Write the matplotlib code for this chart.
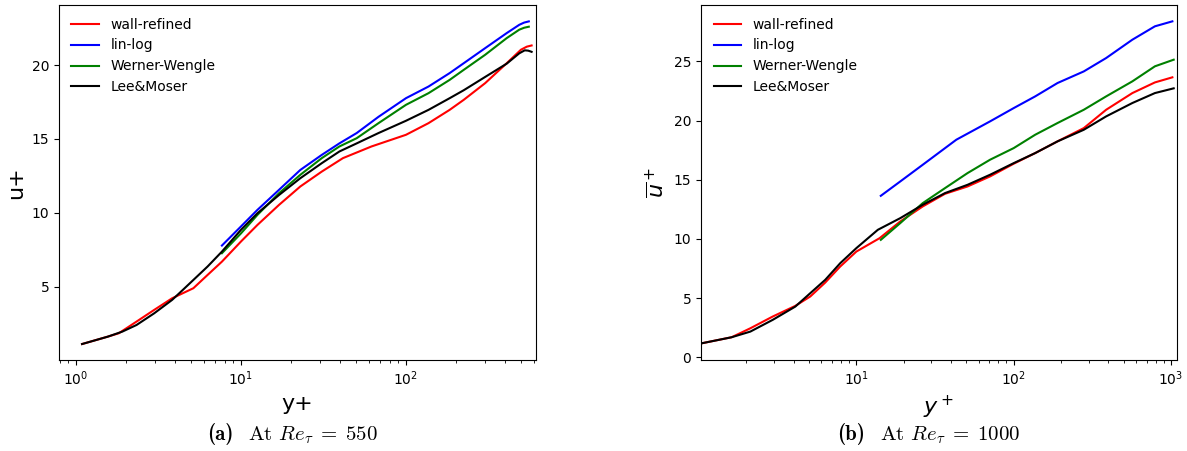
import numpy as np
import matplotlib.pyplot as plt

# ---- Re_tau = 550 ----
lm550_y = [1.09, 1.56, 1.91, 2.33, 2.98, 3.83, 4.44, 5.15, 6.28, 7.67, 10, 12.6, 17, 22.9,
           30.9, 39.5, 50.3, 68.2, 100, 137, 184, 224, 302, 408, 486, 524, 550, 577]
lm550_u = [1.11, 1.61, 1.95, 2.40, 3.19, 4.10, 4.77, 5.45, 6.36, 7.37, 8.84, 9.97, 11.2, 12.34,
           13.36, 14.15, 14.7, 15.4, 16.23, 16.97, 17.76, 18.3, 19.2, 20.1, 20.8, 21.0, 20.98, 20.9]

wr550_y = [1.09, 1.56, 1.82, 2.33, 2.98, 3.83, 5.15, 6.28, 7.67, 10, 12.6, 17, 22.9, 30.9,
           41.5, 61.8, 100, 137, 184, 224, 302, 408, 497, 540, 577]
wr550_u = [1.11, 1.61, 1.84, 2.63, 3.42, 4.21, 4.89, 5.79, 6.69, 8.05, 9.18, 10.53, 11.78, 12.79,
           13.7, 14.49, 15.28, 16.07, 16.97, 17.65, 18.78, 20.13, 21.04, 21.25, 21.33]

ll550_y = [7.67, 10, 12.6, 17, 22.9, 30.9, 39.5, 50.3, 68.2, 100, 137, 184, 224, 302, 408, 486,
           520, 555]
ll550_u = [7.78, 9.07, 10.2, 11.55, 12.9, 13.92, 14.7, 15.4, 16.5, 17.76, 18.55, 19.46, 20.13,
           21.15, 22.17, 22.73, 22.88, 22.96]

ww550_y = [7.67, 10, 12.6, 17, 22.9, 30.9, 39.5, 50.3, 68.2, 100, 137, 184, 224, 302, 408, 486,
           520, 555]
ww550_u = [7.26, 8.6, 9.86, 11.32, 12.57, 13.7, 14.49, 15.05, 16.07, 17.31, 18.1, 19.0, 19.68,
           20.7, 21.83, 22.4, 22.53, 22.6]

# ---- Re_tau = 1000 ----
lm1000_y = [1.04, 1.61, 2.12, 2.94, 4.09, 5.09, 6.34, 7.9, 10, 13.7, 19, 26.4, 36.6, 50.9,
            70.8, 100, 137, 190, 279, 387, 568, 790, 1040]
lm1000_u = [1.18, 1.69, 2.17, 3.16, 4.28, 5.41, 6.54, 7.95, 9.22, 10.77, 11.75, 12.88, 13.87,
            14.57, 15.42, 16.4, 17.25, 18.24, 19.22, 20.35, 21.48, 22.32, 22.72]

wr1000_y = [1.04, 1.61, 2.12, 2.94, 4.09, 5.09, 6.34, 7.9, 10, 14.05, 19, 26.4, 36.6, 50.9,
            70.8, 100, 137, 190, 279, 387, 568, 790, 1020]
wr1000_u = [1.18, 1.69, 2.45, 3.44, 4.34, 5.13, 6.31, 7.67, 8.93, 10.06, 11.47, 12.74, 13.81,
            14.43, 15.28, 16.35, 17.25, 18.24, 19.36, 20.91, 22.32, 23.22, 23.65]

ll1000_y = [14.3, 19, 26.4, 43.2, 70.8, 100, 137, 190, 279, 387, 568, 790, 1020]
ll1000_u = [13.64, 14.85, 16.26, 18.38, 19.93, 21.05, 22.04, 23.17, 24.15, 25.28, 26.83, 27.96,
            28.38]

ww1000_y = [14.3, 19, 26.4, 36.6, 50.9, 70.8, 100, 137, 190, 279, 387, 568, 790, 1040]
ww1000_u = [9.92, 11.33, 13.02, 14.29, 15.56, 16.69, 17.67, 18.8, 19.79, 20.91, 22.04, 23.31,
            24.58, 25.14]

labels = ['wall-refined', 'lin-log', 'Werner-Wengle', 'Lee&Moser']
colors = ['r', 'b', 'g', 'k']

fig = plt.figure(figsize=(11.87, 4.51), dpi=100)
ax1 = fig.add_axes([0.0497, 0.2018, 0.4019, 0.7871])
ax2 = fig.add_axes([0.5906, 0.2018, 0.4010, 0.7871])

data550 = [(wr550_y, wr550_u), (ll550_y, ll550_u), (ww550_y, ww550_u), (lm550_y, lm550_u)]
data1000 = [(wr1000_y, wr1000_u), (ll1000_y, ll1000_u), (ww1000_y, ww1000_u), (lm1000_y, lm1000_u)]

for (x, y), c, lab in zip(data550, colors, labels):
    ax1.plot(x, y, color=c, label=lab, lw=1.5)
for (x, y), c, lab in zip(data1000, colors, labels):
    ax2.plot(x, y, color=c, label=lab, lw=1.5)

ax1.set_xscale('log')
ax1.set_xlim(0.79, 614)
ax1.set_ylim(0.03, 24.07)
ax1.set_yticks([5, 10, 15, 20])
ax1.set_xlabel('y+', fontsize=16)
ax1.set_ylabel('u+', fontsize=16)
ax1.legend(loc='upper left', frameon=False, fontsize=10)

ax2.set_xscale('log')
ax2.set_xlim(1.03, 1092)
ax2.set_ylim(-0.23, 29.76)
ax2.set_yticks([0, 5, 10, 15, 20, 25])
ax2.set_xlabel(r'$y^+$', fontsize=16)
ax2.set_ylabel(r'$\overline{u}^+$', fontsize=16)
ax2.legend(loc='upper left', frameon=False, fontsize=10)

# captions below each panel (LaTeX-like fonts)
W, H = 1187.0, 451.0
base = 1 - 440 / H
fig.text(207 / W, base, '(a)', fontfamily='cmb10', fontsize=15, va='baseline')
fig.text(248 / W, base, r'At $Re_\tau\;=\;550$', fontfamily='cmr10', math_fontfamily='cm',
         fontsize=15, va='baseline')
fig.text(837 / W, base, '(b)', fontfamily='cmb10', fontsize=15, va='baseline')
fig.text(880 / W, base, r'At $Re_\tau\;=\;1000$', fontfamily='cmr10', math_fontfamily='cm',
         fontsize=15, va='baseline')

fig.savefig('out.png', dpi=100)
